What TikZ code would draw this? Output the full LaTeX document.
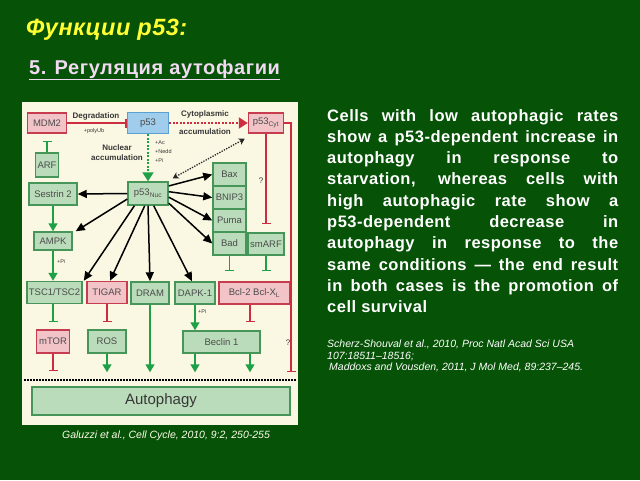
\documentclass[tikz,border=0pt]{standalone}
\usepackage{fontspec}
\setmainfont{Liberation Sans}
\newfontfamily\spacedfont[LetterSpace=3]{Liberation Sans}
\newfontfamily\titlefont[LetterSpace=2]{Liberation Sans}
\newfontfamily\subfont[LetterSpace=3]{Liberation Sans}
\usetikzlibrary{arrows.meta}
\definecolor{slidegreen}{RGB}{6,82,6}
\definecolor{cream}{RGB}{250,247,226}
\definecolor{gfill}{RGB}{186,220,186}
\definecolor{gdraw}{RGB}{70,150,90}
\definecolor{rfill}{RGB}{242,196,200}
\definecolor{rdraw}{RGB}{200,60,80}
\definecolor{bfill}{RGB}{160,205,235}
\definecolor{bdraw}{RGB}{90,160,210}
\definecolor{garrow}{RGB}{30,160,70}
\definecolor{rline}{RGB}{205,45,65}
\definecolor{boxtext}{RGB}{75,75,75}
\definecolor{lbltext}{RGB}{55,55,55}
\definecolor{titleyellow}{RGB}{255,255,51}
\definecolor{subpink}{RGB}{242,218,242}
\begin{document}
\begin{tikzpicture}[x=1pt,y=-1pt,
  basebox/.style={draw, line width=1.5pt, inner sep=0pt, text=boxtext, font=\fontsize{9.5}{10}\selectfont},
  gbox/.style={basebox, fill=gfill, draw=gdraw},
  rbox/.style={basebox, fill=rfill, draw=rdraw},
  bbox/.style={basebox, fill=bfill, draw=bdraw},
  lbl/.style={inner sep=0pt, text=lbltext, font=\fontsize{8}{10}\selectfont\bfseries},
  smalllbl/.style={inner sep=0pt, text=lbltext, font=\fontsize{5.5}{9}\selectfont},
  blackarrow/.style={draw=black, line width=1.5pt, -{Triangle[length=9pt,width=8pt]}},
  garr/.style={draw=garrow, line width=1.5pt, -{Triangle[length=8pt,width=9pt]}},
  greenT/.style={draw=garrow, line width=1.5pt, -{Bar[width=9pt,line width=1.5pt]}},
  redT/.style={draw=rline, line width=1.5pt, -{Bar[width=9pt,line width=1.5pt]}},
]
\useasboundingbox[fill=slidegreen] (0,0) rectangle (640,480);
% diagram background
\fill[cream] (22,102) rectangle (298,425);

% title texts
\node[anchor=base west, inner sep=0pt, text=titleyellow, font=\fontsize{23.5}{24}\titlefont\bfseries\itshape] (title) at (26,35) {Функции p53:};
\node[anchor=base west, inner sep=0pt, text=subpink, font=\fontsize{20}{20}\subfont\bfseries] (subtitle) at (29,74) {\underline{5. Регуляция аутофагии}};

% nodes
\node[rbox, minimum width=39pt, minimum height=20pt] (MDM2) at (47,123) {MDM2};
\node[bbox, minimum width=41pt, minimum height=21pt] (p53) at (148,123) {p53};
\node[rbox, minimum width=35pt, minimum height=20pt] (p53Cyt) at (266,123) {p53\textsubscript{Cyt}};
\node[gbox, minimum width=23pt, minimum height=24pt] (ARF) at (47,165) {ARF};
\node[gbox, minimum width=48pt, minimum height=22pt] (Sestrin) at (53,194) {Sestrin 2};
\node[gbox, minimum width=40pt, minimum height=23pt] (p53Nuc) at (148,193.5) {p53\textsubscript{Nuc}};
\node[gbox, minimum width=33pt, minimum height=23pt] (Bax) at (229.5,174.5) {Bax};
\node[gbox, minimum width=33pt, minimum height=23pt] (BNIP3) at (229.5,197.5) {BNIP3};
\node[gbox, minimum width=33pt, minimum height=23pt] (Puma) at (229.5,220.5) {Puma};
\node[gbox, minimum width=33pt, minimum height=23pt] (Bad) at (229.5,243.5) {Bad};
\node[gbox, minimum width=36pt, minimum height=22pt] (smARF) at (266,244) {smARF};
\node[gbox, minimum width=38pt, minimum height=18pt] (AMPK) at (53,241) {AMPK};
\node[gbox, minimum width=55pt, minimum height=22pt] (TSC) at (54.5,292.5) {TSC1/TSC2};
\node[rbox, minimum width=40pt, minimum height=22pt] (TIGAR) at (107,292.5) {TIGAR};
\node[gbox, minimum width=38pt, minimum height=22pt] (DRAM) at (150,293) {DRAM};
\node[gbox, minimum width=40pt, minimum height=22pt] (DAPK) at (195,293) {DAPK-1};
\node[rbox, minimum width=71pt, minimum height=22pt] (Bcl) at (254.5,293) {Bcl-2 Bcl-X\textsubscript{L}};
\node[rbox, minimum width=33pt, minimum height=23pt] (mTOR) at (53,341.5) {mTOR};
\node[gbox, minimum width=38pt, minimum height=23pt] (ROS) at (107,341.5) {ROS};
\node[gbox, minimum width=77pt, minimum height=22pt] (Beclin) at (221.5,342) {Beclin 1};
\node[gbox, minimum width=258pt, minimum height=28pt, text=lbltext, font=\fontsize{15}{16}\selectfont] (Autophagy) at (161,401) {Autophagy};

% labels
\node[lbl] (deg) at (96,116) {Degradation};
\node[smalllbl] (polyub) at (94,131) {+polyUb};
\node[lbl, align=center, font=\fontsize{8}{10}\selectfont\bfseries] (nucacc) at (117,153) {Nuclear\\accumulation};
\node[smalllbl, anchor=west, align=left] (mods) at (155,152) {+Ac\\+Nedd\\+Pi};
\node[lbl] (cyto1) at (205,114) {Cytoplasmic};
\node[lbl] (cyto2) at (205,132) {accumulation};
\node[smalllbl, anchor=west] (pi1) at (57,262) {+Pi};
\node[smalllbl, anchor=west] (pi2) at (198,312) {+Pi};
\node[inner sep=0pt, text=lbltext, font=\fontsize{8}{9}\selectfont] (q1) at (261,181) {?};
\node[inner sep=0pt, text=lbltext, font=\fontsize{8}{9}\selectfont] (q2) at (288,343) {?};

% top connectors
\draw[redT] (MDM2.east) -- (p53.west);
\draw[greenT, shorten >=7pt] (ARF.north) -- (MDM2.south);
\draw[draw=rline, line width=2pt, dash pattern=on 2pt off 1.5pt, -{Triangle[length=9pt,width=11pt,fill=rline]}] (p53.east) -- (p53Cyt.west);
\draw[draw=garrow, line width=2pt, dash pattern=on 2pt off 1.5pt, -{Triangle[length=9pt,width=11pt,fill=garrow]}] (p53.south) -- (p53Nuc.north);
\draw[draw=black!85, line width=1.3pt, dash pattern=on 1.3pt off 1.3pt, {Stealth[length=6pt,width=7pt]}-{Stealth[length=6pt,width=7pt]}] ([shift={(4pt,3pt)}]p53Nuc.north east) -- ([shift={(-3pt,-5pt)}]p53Cyt.south west);
\draw[redT, shorten >=8pt] (p53Cyt.south) -- (smARF.north);
\coordinate (rightT) at (291,372);
\draw[redT] (p53Cyt.east) -| (rightT);

% black arrows from p53Nuc
\draw[blackarrow] (p53Nuc.west) -- (Sestrin.east);
\draw[blackarrow] (p53Nuc.195) -- ([xshift=3pt]AMPK.north east);
\draw[blackarrow] (p53Nuc.222) -- ([xshift=1pt]TSC.north east);
\draw[blackarrow] (p53Nuc.255) -- ([xshift=3pt]TIGAR.north);
\draw[blackarrow] (p53Nuc.south) -- (DRAM.north);
\draw[blackarrow] (p53Nuc.295) -- ([xshift=-3pt]DAPK.north);
\draw[blackarrow] (p53Nuc.20) -- (Bax.west);
\draw[blackarrow] (p53Nuc.5) -- (BNIP3.west);
\draw[blackarrow] (p53Nuc.-10) -- (Puma.west);
\draw[blackarrow] (p53Nuc.-25) -- (Bad.west);

% green arrows
\draw[garr] (Sestrin.south) -- (AMPK.north);
\draw[garr] (AMPK.south) -- (AMPK.south |- TSC.north);
\draw[garr] (DAPK.south) -- (DAPK.south |- Beclin.north);
\draw[garr, shorten >=14pt] (ROS.south) -- (ROS.south |- Autophagy.north);
\draw[garr, shorten >=14pt] (DRAM.south) -- (DRAM.south |- Autophagy.north);
\draw[garr, shorten >=14pt] ([xshift=-26.5pt]Beclin.south) -- ([xshift=-26.5pt]Beclin.south |- Autophagy.north);
\draw[garr, shorten >=14pt] ([xshift=28.5pt]Beclin.south) -- ([xshift=28.5pt]Beclin.south |- Autophagy.north);

% inhibitions
\draw[greenT, shorten >=7pt] (mTOR.north |- TSC.south) -- (mTOR.north);
\draw[redT, shorten >=15pt] (mTOR.south) -- (mTOR.south |- Autophagy.north);
\draw[redT, shorten >=7pt] (TIGAR.south) -- (ROS.north);
\draw[greenT, shorten >=10pt] (Bad.south) -- (Bad.south |- Bcl.north);
\draw[greenT, shorten >=10pt] (smARF.south) -- (smARF.south |- Bcl.north);
\draw[redT, shorten >=8pt] ([xshift=-4.5pt]Bcl.south) -- ([xshift=-4.5pt]Bcl.south |- Beclin.north);

% dotted membrane line
\draw[black, line width=2pt, dash pattern=on 1.5pt off 1.5pt] (24,380) -- (297,380);

% citation under diagram
\node[inner sep=0pt, text=white!92!yellow, font=\fontsize{10.5}{12}\selectfont\itshape] (cite) at (166,436) {Galuzzi et al., Cell Cycle, 2010, 9:2, 250-255};

% right paragraph
\node[anchor=base west, inner sep=0pt, text width=291pt, align=justify, text=white, font=\fontsize{16.5}{21.3}\spacedfont\bfseries] (para) at (327,121) {Cells with low autophagic rates\linebreak show a p53-dependent increase in\linebreak autophagy in response to\linebreak starvation, whereas cells with\linebreak high autophagic rate show a\linebreak p53-dependent decrease in\linebreak autophagy in response to the\linebreak same conditions — the end result\linebreak in both cases is the promotion of\linebreak cell survival};

\node[anchor=north west, inner sep=0pt, align=left, text=white, font=\fontsize{10.5}{11.2}\selectfont\itshape] (refs) at (327,340) {Scherz-Shouval et al., 2010, Proc Natl Acad Sci USA\\107:18511–18516;\\\hspace*{2pt}Maddoxs and Vousden, 2011, J Mol Med, 89:237–245.};
\end{tikzpicture}
\end{document}
